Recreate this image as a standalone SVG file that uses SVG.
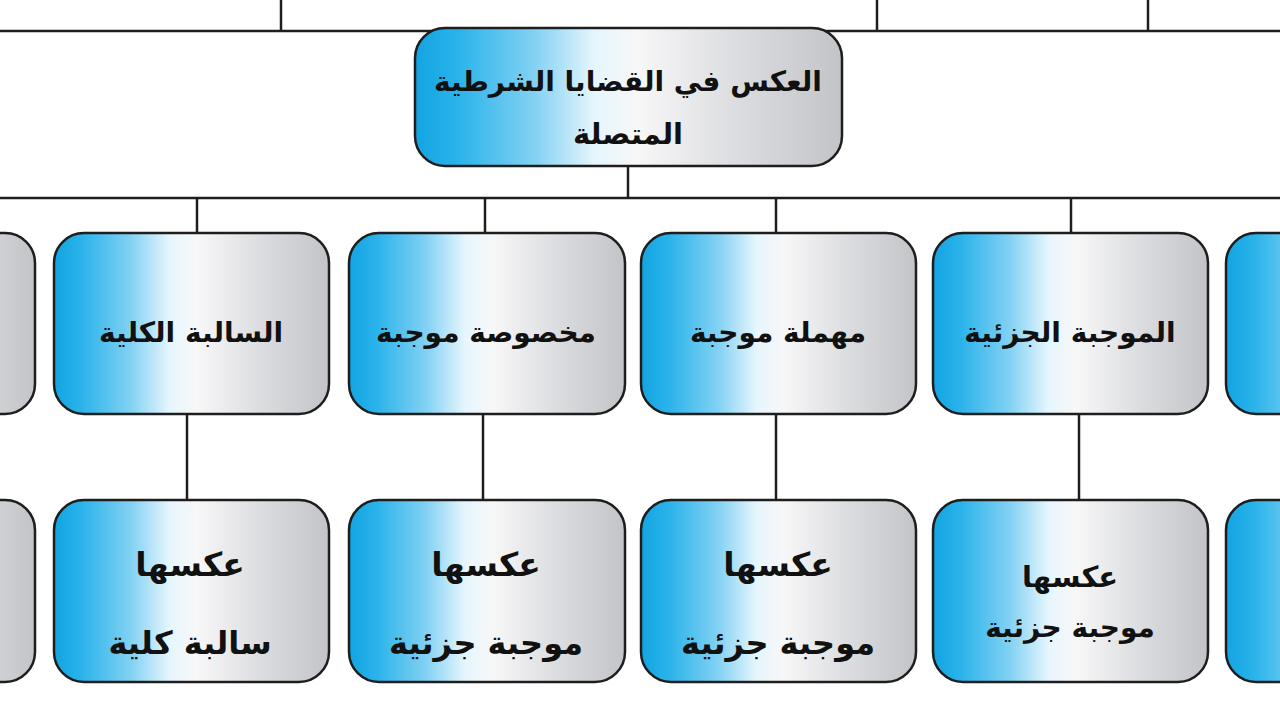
<svg xmlns="http://www.w3.org/2000/svg" width="1280" height="720" viewBox="0 0 1280 720">
<defs>
<linearGradient id="g" x1="0" y1="0" x2="1" y2="0">
<stop offset="0" stop-color="#12a4e2"/>
<stop offset="0.1" stop-color="#2ab3ea"/>
<stop offset="0.28" stop-color="#82d1f3"/>
<stop offset="0.42" stop-color="#e6f6fd"/>
<stop offset="0.52" stop-color="#f7f7f8"/>
<stop offset="0.75" stop-color="#dcdde0"/>
<stop offset="1" stop-color="#c2c4c8"/>
</linearGradient>
<style>
.box{fill:url(#g);stroke:#1e1e1e;stroke-width:2.5}
.ln{stroke:#1e1e1e;stroke-width:2.5;fill:none}
.t{font-family:"DejaVu Sans",sans-serif;font-weight:bold;fill:#111;text-anchor:middle}
</style>
</defs>
<rect width="1280" height="720" fill="#fff"/>
<g id="connectors">
<line class="ln" x1="0" y1="31" x2="1280" y2="31" stroke-width="3"/>
<line class="ln" x1="281" y1="0" x2="281" y2="31"/>
<line class="ln" x1="877" y1="0" x2="877" y2="31"/>
<line class="ln" x1="1148" y1="0" x2="1148" y2="31"/>
<line class="ln" x1="628" y1="166" x2="628" y2="198"/>
<line class="ln" x1="0" y1="198" x2="1280" y2="198" stroke-width="3"/>
<line class="ln" x1="197" y1="198" x2="197" y2="233"/>
<line class="ln" x1="485" y1="198" x2="485" y2="233"/>
<line class="ln" x1="776" y1="198" x2="776" y2="233"/>
<line class="ln" x1="1071" y1="198" x2="1071" y2="233"/>
<line class="ln" x1="187" y1="414" x2="187" y2="500"/>
<line class="ln" x1="483" y1="414" x2="483" y2="500"/>
<line class="ln" x1="776" y1="414" x2="776" y2="500"/>
<line class="ln" x1="1079" y1="414" x2="1079" y2="500"/>
</g>
<g id="root">
<rect class="box" x="415" y="28" width="427" height="138" rx="30"/>
<text class="t" x="628" y="91" font-size="28">العكس في القضايا الشرطية</text>
<text class="t" x="628" y="144" font-size="29">المتصلة</text>
</g>
<g id="left-partial-1"><rect class="box" x="-245" y="233" width="280" height="181" rx="30"/></g>
<g id="left-partial-2"><rect class="box" x="-245" y="500" width="280" height="182" rx="30"/></g>
<g id="right-partial-1"><rect class="box" x="1226" y="233" width="280" height="181" rx="30"/></g>
<g id="right-partial-2"><rect class="box" x="1226" y="500" width="280" height="182" rx="30"/></g>
<g id="n1">
<rect class="box" x="54" y="233" width="275" height="181" rx="30"/>
<text class="t" x="191" y="342" font-size="28">السالبة الكلية</text>
</g>
<g id="n2">
<rect class="box" x="349" y="233" width="276" height="181" rx="30"/>
<text class="t" x="486" y="342" font-size="28">مخصوصة موجبة</text>
</g>
<g id="n3">
<rect class="box" x="641" y="233" width="275" height="181" rx="30"/>
<text class="t" x="778" y="342" font-size="28">مهملة موجبة</text>
</g>
<g id="n4">
<rect class="box" x="933" y="233" width="275" height="181" rx="30"/>
<text class="t" x="1070" y="342" font-size="28">الموجبة الجزئية</text>
</g>
<g id="c1">
<rect class="box" x="54" y="500" width="275" height="182" rx="30"/>
<text class="t" x="190" y="576" font-size="33">عكسها</text>
<text class="t" x="190" y="654" font-size="32">سالبة كلية</text>
</g>
<g id="c2">
<rect class="box" x="349" y="500" width="276" height="182" rx="30"/>
<text class="t" x="486" y="576" font-size="33">عكسها</text>
<text class="t" x="486" y="654" font-size="32">موجبة جزئية</text>
</g>
<g id="c3">
<rect class="box" x="641" y="500" width="275" height="182" rx="30"/>
<text class="t" x="778" y="576" font-size="33">عكسها</text>
<text class="t" x="778" y="654" font-size="32">موجبة جزئية</text>
</g>
<g id="c4">
<rect class="box" x="933" y="500" width="275" height="182" rx="30"/>
<text class="t" x="1070" y="587" font-size="29">عكسها</text>
<text class="t" x="1070" y="637" font-size="28">موجبة جزئية</text>
</g>
</svg>
